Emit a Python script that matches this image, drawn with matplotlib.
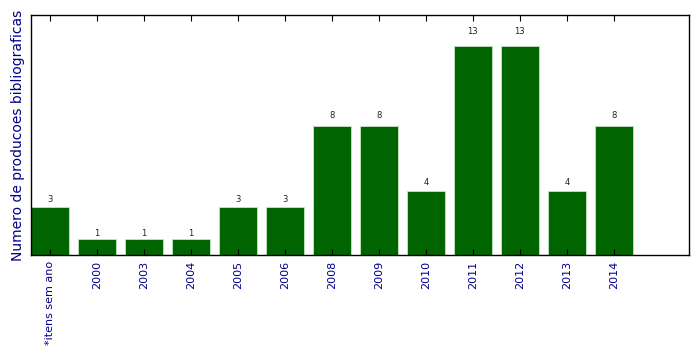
import matplotlib
matplotlib.use("Agg")
import matplotlib.pyplot as plt
import numpy as np

categories = ["*itens sem ano", "2000", "2003", "2004", "2005", "2006", "2008",
              "2009", "2010", "2011", "2012", "2013", "2014"]
values = [3, 1, 1, 1, 3, 3, 8, 8, 4, 13, 13, 4, 8]

fig = plt.figure(figsize=(6.99, 3.54), dpi=100)
ax = fig.add_axes([31/699, 99/354, 658/699, 240/354])

x = np.arange(len(values))
ax.bar(x, values, width=0.8, align='edge', color='#006400',
       edgecolor='#c8e6c8', linewidth=0.6)
for xi, v in zip(x, values):
    ax.text(xi + 0.4, 1.05 * v + 0.0, str(v), ha='center', va='bottom',
            fontsize=6, color='#222222')

ax.set_xlim(0, 14)
ax.set_ylim(0, 14.93)
ax.set_xticks(x + 0.4)
ax.set_xticklabels(categories, rotation=90, fontsize=8, color='darkblue')
ax.set_yticks([])
ax.tick_params(axis='x', direction='in', top=True, bottom=True, length=4,
               width=0.8, pad=4)
ax.set_ylabel("Numero de producoes bibliograficas", fontsize=10,
              color='darkblue', labelpad=4)
for s in ax.spines.values():
    s.set_linewidth(1.0)

fig.savefig("out.png", dpi=100)
